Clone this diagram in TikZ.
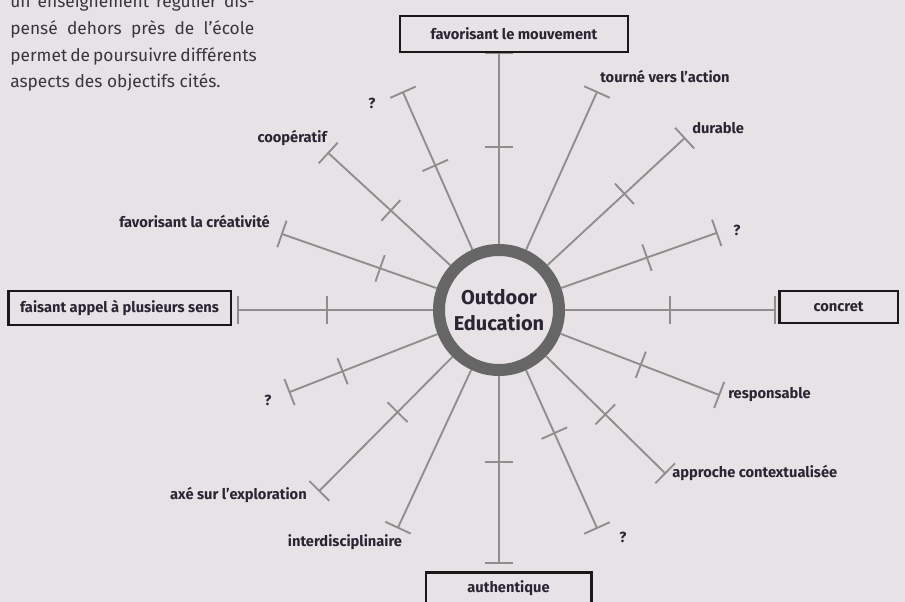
\documentclass[tikz,border=0pt]{standalone}
\usepackage{fontspec}
\setmainfont{Fira Sans}
\usetikzlibrary{calc}
\definecolor{bgpaper}{HTML}{E6E2E5}
\definecolor{inkdark}{HTML}{2A2433}
\definecolor{inkpara}{HTML}{3A3440}
\definecolor{spokegray}{HTML}{8E8E8E}
\definecolor{ringgray}{HTML}{666666}

\begin{document}
\begin{tikzpicture}[x=0.75pt,y=0.75pt,
			hub/.style={circle, draw=ringgray, line width=9pt, fill=bgpaper, minimum size=90pt, inner sep=0pt, align=center, text=inkdark, font=\fontsize{15}{19}\selectfont\bfseries},
			spoke/.style={draw=spokegray, line width=1.4pt},
			boxlabel/.style={rectangle, draw=black!90, line width=2pt, fill=bgpaper, inner sep=0pt, text=inkdark, font=\fontsize{11}{13}\selectfont\bfseries},
			textlabel/.style={inner sep=0pt, text=inkdark, font=\fontsize{11}{13}\selectfont\bfseries},
			paraline/.style={inner sep=0pt, anchor=base west, text=inkpara, font=\fontsize{13}{15}\selectfont},
			]

\fill[bgpaper] (0,0) rectangle (905,602);
\useasboundingbox (0,0) rectangle (905,602);

% text in the top left corner
\node[paraline] (p1) at (10,594) {\hbox to 183pt{un enseignement régulier dis-}};
\node[paraline] (p2) at (10,567) {\hbox to 183pt{pensé dehors près de l’école}};
\node[paraline] (p3) at (10,540) {\hbox to 183pt{permet de poursuivre différents}};
\node[paraline] (p4) at (10,514) {aspects des objectifs cités.};

\node[hub] (oe) at (499,292) {Outdoor\\Education};

\coordinate (e1) at ($(oe.center)+(90:257)$);
\coordinate (e2) at ($(oe.center)+(65.8:239)$);
\coordinate (e3) at ($(oe.center)+(42.8:253)$);
\coordinate (e4) at ($(oe.center)+(19.5:231)$);
\coordinate (e5) at ($(oe.center)+(0:276)$);
\coordinate (e6) at ($(oe.center)+(-21.1:236)$);
\coordinate (e7) at ($(oe.center)+(-44.5:233)$);
\coordinate (e8) at ($(oe.center)+(-65.8:239)$);
\coordinate (e9) at ($(oe.center)+(-90:253)$);
\coordinate (e10) at ($(oe.center)+(-114.9:240)$);
\coordinate (e11) at ($(oe.center)+(-134.8:255)$);
\coordinate (e12) at ($(oe.center)+(-158.6:225)$);
\coordinate (e13) at ($(oe.center)+(180:261)$);
\coordinate (e14) at ($(oe.center)+(160.7:230)$);
\coordinate (e15) at ($(oe.center)+(137.4:232)$);
\coordinate (e16) at ($(oe.center)+(113.8:238)$);

\coordinate (t1) at ($(oe.center)+(90:163)$);
\coordinate (t3) at ($(oe.center)+(42.8:171)$);
\coordinate (t4) at ($(oe.center)+(19.5:157)$);
\coordinate (t5) at ($(oe.center)+(0:171)$);
\coordinate (t6) at ($(oe.center)+(-21.1:152)$);
\coordinate (t7) at ($(oe.center)+(-44.5:149)$);
\coordinate (t8) at ($(oe.center)+(-65.8:135)$);
\coordinate (t9) at ($(oe.center)+(-90:152)$);
\coordinate (t11) at ($(oe.center)+(-134.8:144)$);
\coordinate (t12) at ($(oe.center)+(-158.6:168)$);
\coordinate (t13) at ($(oe.center)+(180:172)$);
\coordinate (t14) at ($(oe.center)+(160.7:126)$);
\coordinate (t15) at ($(oe.center)+(137.4:147)$);
\coordinate (t16) at ($(oe.center)+(113.8:158)$);

% spokes with their end bars
\draw[spoke] (oe) -- (e1) ($(e1)!10.5pt!90:(oe.center)$) -- ($(e1)!10.5pt!-90:(oe.center)$);
\draw[spoke] (oe) -- (e2) ($(e2)!10.5pt!90:(oe.center)$) -- ($(e2)!10.5pt!-90:(oe.center)$);
\draw[spoke] (oe) -- (e3) ($(e3)!10.5pt!90:(oe.center)$) -- ($(e3)!10.5pt!-90:(oe.center)$);
\draw[spoke] (oe) -- (e4) ($(e4)!10.5pt!90:(oe.center)$) -- ($(e4)!10.5pt!-90:(oe.center)$);
\draw[spoke] (oe) -- (e5) ($(e5)!10.5pt!90:(oe.center)$) -- ($(e5)!10.5pt!-90:(oe.center)$);
\draw[spoke] (oe) -- (e6) ($(e6)!10.5pt!90:(oe.center)$) -- ($(e6)!10.5pt!-90:(oe.center)$);
\draw[spoke] (oe) -- (e7) ($(e7)!10.5pt!90:(oe.center)$) -- ($(e7)!10.5pt!-90:(oe.center)$);
\draw[spoke] (oe) -- (e8) ($(e8)!10.5pt!90:(oe.center)$) -- ($(e8)!10.5pt!-90:(oe.center)$);
\draw[spoke] (oe) -- (e9) ($(e9)!10.5pt!90:(oe.center)$) -- ($(e9)!10.5pt!-90:(oe.center)$);
\draw[spoke] (oe) -- (e10) ($(e10)!10.5pt!90:(oe.center)$) -- ($(e10)!10.5pt!-90:(oe.center)$);
\draw[spoke] (oe) -- (e11) ($(e11)!10.5pt!90:(oe.center)$) -- ($(e11)!10.5pt!-90:(oe.center)$);
\draw[spoke] (oe) -- (e12) ($(e12)!10.5pt!90:(oe.center)$) -- ($(e12)!10.5pt!-90:(oe.center)$);
\draw[spoke] (oe) -- (e13) ($(e13)!10.5pt!90:(oe.center)$) -- ($(e13)!10.5pt!-90:(oe.center)$);
\draw[spoke] (oe) -- (e14) ($(e14)!10.5pt!90:(oe.center)$) -- ($(e14)!10.5pt!-90:(oe.center)$);
\draw[spoke] (oe) -- (e15) ($(e15)!10.5pt!90:(oe.center)$) -- ($(e15)!10.5pt!-90:(oe.center)$);
\draw[spoke] (oe) -- (e16) ($(e16)!10.5pt!90:(oe.center)$) -- ($(e16)!10.5pt!-90:(oe.center)$);

% middle ticks
\draw[spoke] ($(t1)!10.5pt!90:(oe.center)$) -- ($(t1)!10.5pt!-90:(oe.center)$);
\draw[spoke] ($(t3)!10.5pt!90:(oe.center)$) -- ($(t3)!10.5pt!-90:(oe.center)$);
\draw[spoke] ($(t4)!10.5pt!90:(oe.center)$) -- ($(t4)!10.5pt!-90:(oe.center)$);
\draw[spoke] ($(t5)!10.5pt!90:(oe.center)$) -- ($(t5)!10.5pt!-90:(oe.center)$);
\draw[spoke] ($(t6)!10.5pt!90:(oe.center)$) -- ($(t6)!10.5pt!-90:(oe.center)$);
\draw[spoke] ($(t7)!10.5pt!90:(oe.center)$) -- ($(t7)!10.5pt!-90:(oe.center)$);
\draw[spoke] ($(t8)!10.5pt!90:(oe.center)$) -- ($(t8)!10.5pt!-90:(oe.center)$);
\draw[spoke] ($(t9)!10.5pt!90:(oe.center)$) -- ($(t9)!10.5pt!-90:(oe.center)$);
\draw[spoke] ($(t11)!10.5pt!90:(oe.center)$) -- ($(t11)!10.5pt!-90:(oe.center)$);
\draw[spoke] ($(t12)!10.5pt!90:(oe.center)$) -- ($(t12)!10.5pt!-90:(oe.center)$);
\draw[spoke] ($(t13)!10.5pt!90:(oe.center)$) -- ($(t13)!10.5pt!-90:(oe.center)$);
\draw[spoke] ($(t14)!10.5pt!90:(oe.center)$) -- ($(t14)!10.5pt!-90:(oe.center)$);
\draw[spoke] ($(t15)!10.5pt!90:(oe.center)$) -- ($(t15)!10.5pt!-90:(oe.center)$);
\draw[spoke] ($(t16)!10.5pt!90:(oe.center)$) -- ($(t16)!10.5pt!-90:(oe.center)$);

% boxed labels
\node[boxlabel, minimum width=171pt, minimum height=27pt] (mouvement) at (514,568) {favorisant le mouvement};
\node[boxlabel, minimum width=89pt, minimum height=24pt] (concret) at (838.5,295) {concret};
\node[boxlabel, minimum width=167pt, minimum height=25.5pt] (sens) at (119.5,294) {faisant appel à plusieurs sens};
\node[boxlabel, minimum width=124pt, minimum height=23.5pt] (authentique) at (508.5,13.5) {authentique};

% free labels
\node[textlabel, anchor=west] (action) at (600,525) {tourné vers l’action};
\node[textlabel, anchor=west] (durable) at (692,474) {durable};
\node[textlabel] (q1) at (737,372) {?};
\node[textlabel, anchor=west] (responsable) at (728,207) {responsable};
\node[textlabel, anchor=west] (contexte) at (672,129) {approche contextualisée};
\node[textlabel] (q2) at (623,65) {?};
\node[textlabel] (interdisc) at (345,60) {interdisciplinaire};
\node[textlabel, anchor=east] (exploration) at (307,107) {axé sur l’exploration};
\node[textlabel] (q3) at (268,202) {?};
\node[textlabel, anchor=east] (creativite) at (270,380) {favorisant la créativité};
\node[textlabel, anchor=east] (cooperatif) at (327,464) {coopératif};
\node[textlabel] (q4) at (372,499) {?};

        \end{tikzpicture}
\end{document}
